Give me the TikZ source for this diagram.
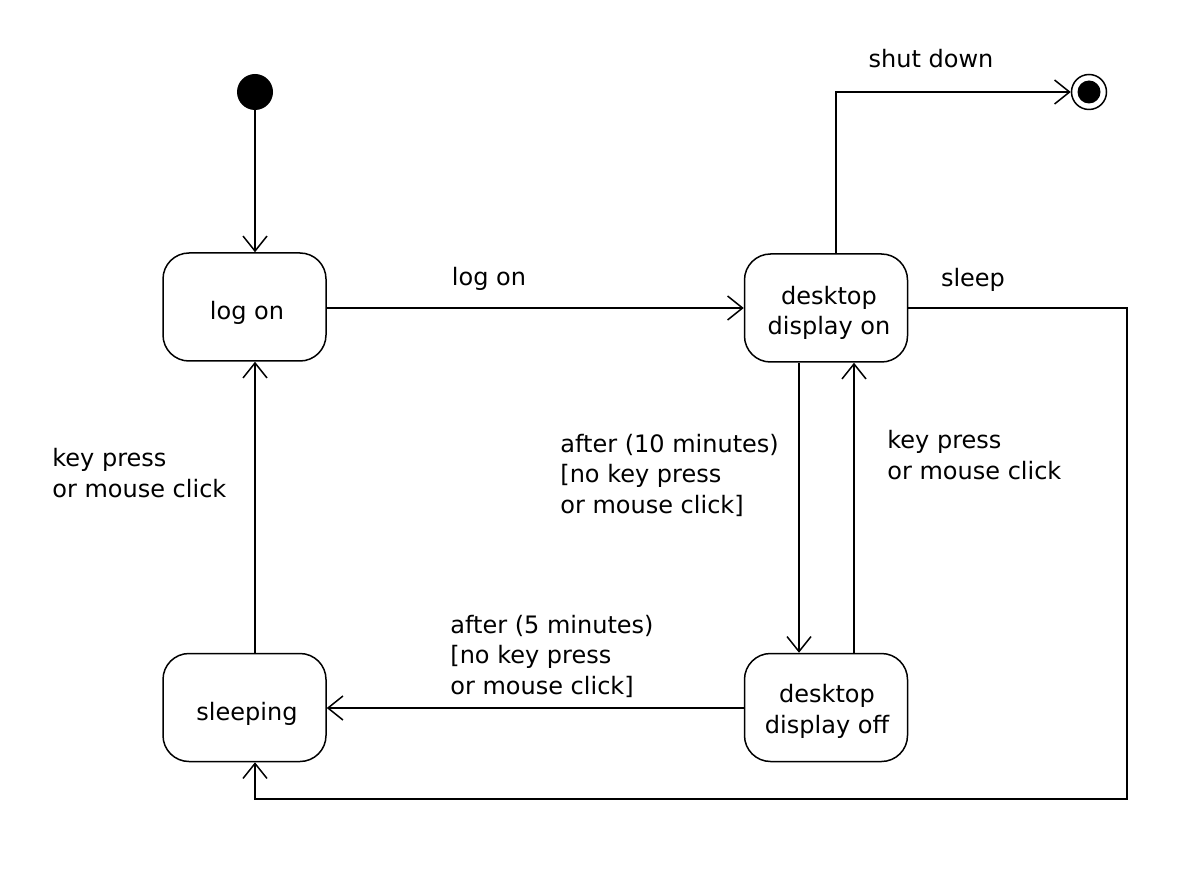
\documentclass[tikz,border=0pt]{standalone}
\usepackage{fontspec}
\setmainfont{DejaVu Sans}
\usetikzlibrary{arrows.meta}
\begin{document}
\begin{tikzpicture}[x=0.5pt,y=-0.5pt,
  every node/.style={font=\fontsize{12pt}{15.25pt}\selectfont},
  state/.style={draw, line width=0.75pt, rounded corners=13pt, minimum width=81.5pt, minimum height=54pt, inner sep=0pt},
  stext/.style={align=center, inner sep=0pt, anchor=base},
  trans/.style={line width=0.75pt, -{Straight Barb[length=7.5pt,width=12pt,line width=0.75pt]}},
  lbl/.style={align=left, inner sep=0pt, anchor=base west}]
\useasboundingbox (0,0) rectangle (1198,871);
\fill (255,92) circle[radius=18];
\node[circle, minimum size=18pt, inner sep=0pt] (initn) at (255,92) {};
\node[circle, draw, line width=0.75pt, minimum size=17.5pt, inner sep=0pt] (final) at (1089,92) {};
\fill (1089,92) circle[radius=11.5];
\node[state] (logon) at (244.5,307) {};
\node[state] (don) at (826,308) {};
\node[state] (sleeping) at (244.5,707.5) {};
\node[state] (doff) at (826,707.5) {};
\node[stext] (logon-t) at (247,320) {log on};
\node[stext] (don-t) at (829,335) {desktop\\display on};
\node[stext] (sleeping-t) at (247,720) {sleeping};
\node[stext] (doff-t) at (827,733) {desktop\\display off};
\coordinate (c1) at (836,92);
\coordinate (c2) at (1127,308);
\coordinate (c3) at (1127,799);
\coordinate (c4) at (255,799);
\draw[trans] (initn.south) -- (logon.north -| initn.south);
\draw[trans] (logon.east |- 0,308) -- (don.west |- 0,308);
\draw[trans] (don.north -| c1) -- (c1) -- (final.west);
\draw[trans] (don.east |- c2) -- (c2) -- (c3) -- (c4) -- (sleeping.south -| c4);
\draw[trans] (don.south -| 799,0) -- (doff.north -| 799,0);
\draw[trans] (doff.north -| 854,0) -- (don.south -| 854,0);
\draw[trans] (doff.west |- 0,708) -- (sleeping.east |- 0,708);
\draw[trans] (sleeping.north -| 255,0) -- (logon.south -| 255,0);
\node[anchor=base, inner sep=0pt] (l1) at (489,286) {log on};
\node[anchor=base, inner sep=0pt] (l2) at (931,68) {shut down};
\node[anchor=base, inner sep=0pt] (l3) at (973,287) {sleep};
\node[lbl] (l4) at (560,513) {after (10 minutes)\\{[}no key press\\or mouse click{]}};
\node[lbl] (l5) at (887,479) {key press\\or mouse click};
\node[lbl] (l6) at (450,694) {after (5 minutes)\\{[}no key press\\or mouse click{]}};
\node[lbl] (l7) at (52,497) {key press\\or mouse click};
\end{tikzpicture}
\end{document}
